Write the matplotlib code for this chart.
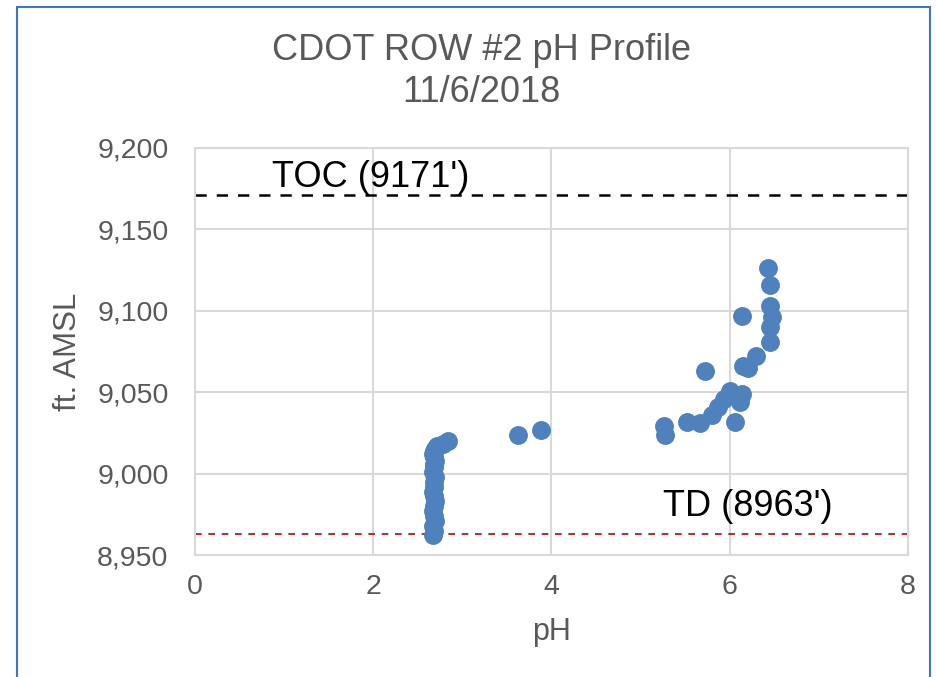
import matplotlib
matplotlib.use('Agg')
import matplotlib.pyplot as plt
from matplotlib.patches import Rectangle

# data
ph = [2.67, 2.68, 2.67, 2.69, 2.68, 2.67, 2.68, 2.69, 2.68, 2.67, 2.68, 2.68,
      2.69, 2.67, 2.68, 2.68, 2.69, 2.68, 2.67, 2.68, 2.69, 2.72, 2.78, 2.84,
      3.62, 3.88,
      5.26, 5.27, 5.52, 5.67, 5.80, 5.87, 5.93, 6.00, 6.14, 6.12, 6.06, 5.72,
      6.15, 6.20, 6.29, 6.14, 6.45, 6.45, 6.47, 6.45, 6.45, 6.43]
elev = [8962, 8965, 8968, 8971, 8974, 8977, 8980, 8983, 8986, 8989, 8992, 8995,
        8998, 9001, 9004, 9006, 9008, 9010, 9012, 9014, 9015, 9017, 9018, 9020,
        9024, 9027,
        9029, 9024, 9032, 9031, 9036, 9041, 9046, 9051, 9049, 9044, 9032, 9063,
        9066, 9065, 9072, 9097, 9081, 9090, 9096, 9103, 9116, 9126]

toc = 9171
td = 8963

plt.rcParams['font.family'] = ['Liberation Sans', 'DejaVu Sans']
grey = '#595959'

fig = plt.figure(figsize=(9.36, 6.77), dpi=100)
ax = fig.add_axes([0.2083, 0.1802, 0.7618, 0.6012])

ax.scatter(ph, elev, s=185, color='#4F81BD', linewidths=0, zorder=3)
ax.axhline(toc, color='black', lw=1.8, dashes=(4.5, 4), zorder=2)
ax.axhline(td, color='#C00000', lw=1.2, dashes=(4, 4), zorder=2)
ax.text(0.86, 9176, "TOC (9171')", fontsize=26, color='black', va='baseline')
ax.text(5.25, 8974, "TD (8963')", fontsize=26, color='black', va='baseline')

ax.set_xlim(0, 8)
ax.set_ylim(8950, 9200)
ax.set_xticks([0, 2, 4, 6, 8])
ax.set_yticks([8950, 9000, 9050, 9100, 9150, 9200])
ax.yaxis.set_major_formatter(matplotlib.ticker.FuncFormatter(lambda v, p: f'{v:,.0f}'))
ax.grid(True, color='#D9D9D9', lw=1.5, zorder=0)
ax.set_axisbelow(True)
ax.tick_params(length=0, labelsize=20.5, colors=grey)
ax.tick_params(axis='y', pad=19)
ax.tick_params(axis='x', pad=14)
for s in ax.spines.values():
    s.set_color('#D9D9D9')
    s.set_linewidth(1.5)

ax.set_xlabel('pH', fontsize=22, color=grey, labelpad=12)
ax.set_ylabel('ft. AMSL', fontsize=22.5, color=grey, labelpad=10)

fig.text(0.514, 0.926, 'CDOT ROW #2 pH Profile', fontsize=26, color=grey, ha='center', va='center')
fig.text(0.514, 0.864, '11/6/2018', fontsize=26, color=grey, ha='center', va='center')

# outer blue frame of the chart object
fig.patches.append(Rectangle((17 / 936, -0.05), (930 - 17) / 936, 1.05 - 7 / 677,
                             transform=fig.transFigure, fill=False,
                             edgecolor='#4472C4', lw=1.5))

fig.savefig('out.png', dpi=100)
